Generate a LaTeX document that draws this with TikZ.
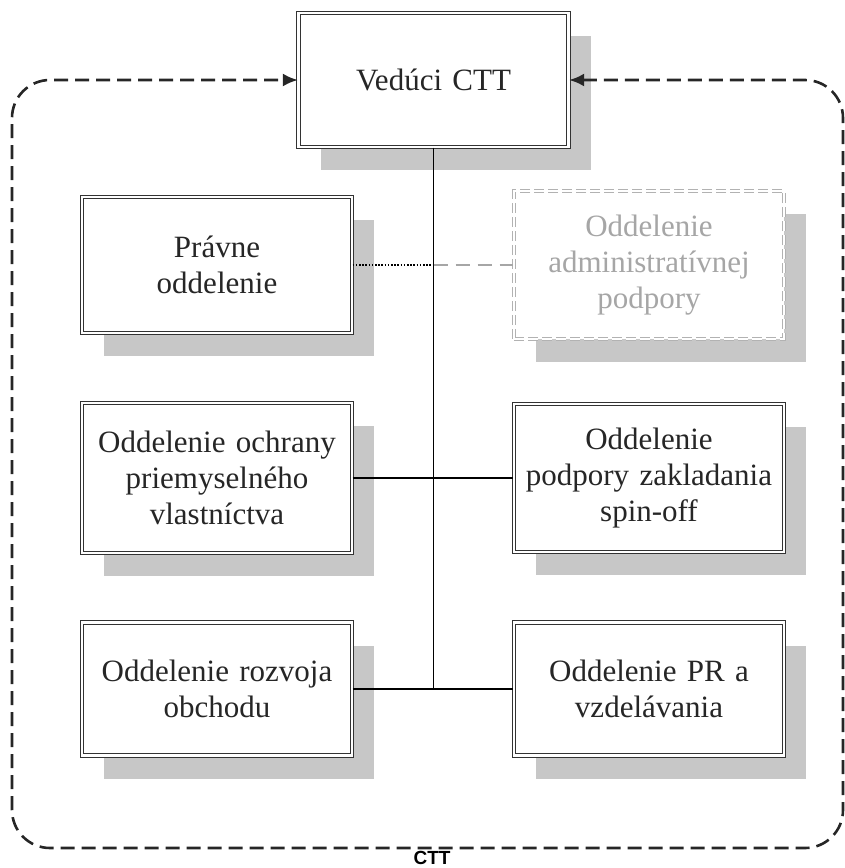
\documentclass[tikz,border=0pt]{standalone}
\usepackage{fontspec}
\setmainfont{Liberation Serif}
\setsansfont{Liberation Sans}
\usepackage{xcolor}
\usepackage{tikz}
\usetikzlibrary{arrows.meta, shadows}

\begin{document}
\begin{tikzpicture}[x=1pt, y=-1pt,
  ubox/.style={draw=black!80, double, double distance=2.2pt, line width=1.2pt,
               fill=white, minimum width=270pt, align=center, text width=262pt,
               text=black!85, font=\fontsize{31}{36}\selectfont,
               general shadow={fill=black!22, shadow xshift=22pt, shadow yshift=-23pt}},
  gbox/.style={ubox, draw=black!30, text=black!35,
               dash pattern=on 10pt off 4pt},
  conn/.style={draw=black, line width=1.3pt},
  dotconn/.style={draw=black, line width=1.3pt, dash pattern=on 1.6pt off 1.6pt},
  gconn/.style={draw=black!35, line width=1.3pt, dash pattern=on 14pt off 8pt},
  frame/.style={draw=black!85, line width=2.6pt, dash pattern=on 14pt off 7pt,
                rounded corners=38pt, {Latex[length=15pt, width=13pt]}-{Latex[length=15pt, width=13pt]}},
]
\useasboundingbox (0,0) rectangle (845,868);

% --- Head of the centre ---
\node[ubox, minimum height=134pt]
  (boss) at (433.5, 80) {Vedúci CTT};

% --- Left column ---
\node[ubox, minimum height=136pt]
  (pravne)  at (217, 265) {Právne\\oddelenie};
\node[ubox, minimum height=150pt]
  (ochrana) at (217, 478) {Oddelenie ochrany\\priemyselného\\vlastníctva};
\node[ubox, minimum height=133pt]
  (obchod)  at (217, 689) {Oddelenie rozvoja\\obchodu};

% --- Right column ---
\node[gbox, minimum height=148pt]
  (admin)   at (649, 265) {Oddelenie\\administratívnej\\podpory};
\node[ubox, minimum height=148pt]
  (spinoff) at (649, 478) {Oddelenie\\podpory zakladania\\spin-off};
\node[ubox, minimum height=133pt]
  (pr)      at (649, 689) {Oddelenie PR a\\vzdelávania};

% --- Connectors ---
\coordinate (trunk) at (boss.south |- obchod.east);
\coordinate (tap)   at (boss.south |- pravne.east);
\draw[conn] (boss.south) -- (trunk);
\draw[conn] (ochrana.east) -- (spinoff.west);
\draw[conn] (obchod.east) -- (pr.west);
\draw[dotconn] (pravne.east) -- (tap);
\draw[gconn] (tap) -- (admin.west);

% --- Dashed border of the CTT ---
\coordinate (ne) at (843, 80);
\coordinate (se) at (843, 848);
\coordinate (sw) at (12, 848);
\coordinate (nw) at (12, 80);
\draw[frame] (boss.east) -- (ne) -- (se) -- (sw) -- (nw) -- (boss.west);
\node[anchor=north, inner sep=0pt, font=\sffamily\bfseries\fontsize{19}{22}\selectfont]
  (ctt) at (432, 851) {CTT};
\end{tikzpicture}
\end{document}
